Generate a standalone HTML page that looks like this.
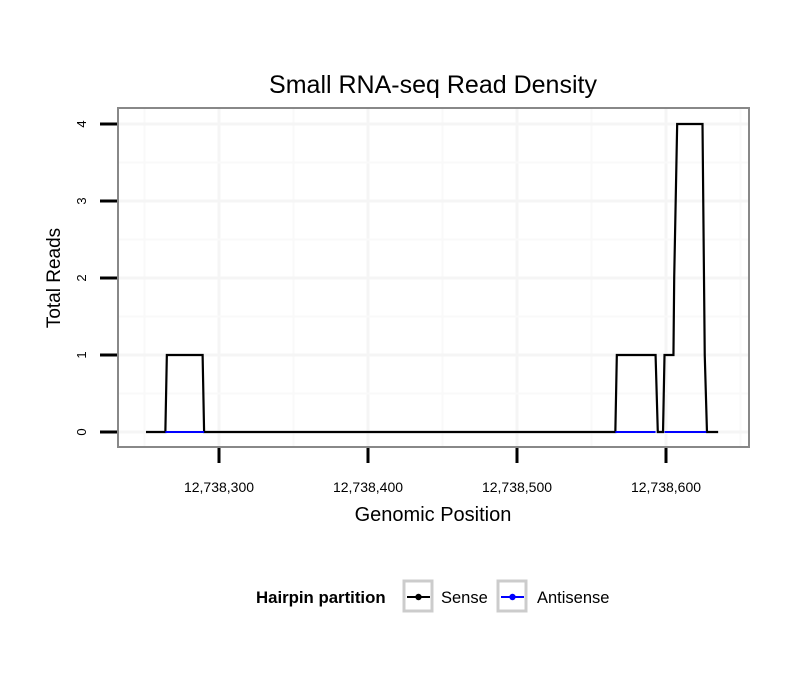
<!DOCTYPE html>
<html><head><meta charset="utf-8"><style>
body{margin:0;background:#fff;font-family:"Liberation Sans",sans-serif}
</style></head><body>
<svg id="chart" width="810" height="690" xmlns="http://www.w3.org/2000/svg">
<rect width="810" height="690" fill="#fff"/>
<text x="433" y="93" font-size="25" text-anchor="middle">Small RNA-seq Read Density</text>
<g id="grid"></g>
<g id="series"></g>
<rect x="118" y="108" width="631" height="339" fill="none" stroke="#888" stroke-width="2"/>
<g id="axes"></g>
<text x="433" y="521" font-size="20" text-anchor="middle">Genomic Position</text>
<text transform="translate(60,278) rotate(-90)" font-size="19" text-anchor="middle">Total Reads</text>
<g>
<text x="256" y="603" font-size="16.8" font-weight="bold">Hairpin partition</text>
<g>
<rect x="404" y="581" width="28" height="30" fill="#fff" stroke="#ccc" stroke-width="3"/>
<line x1="407" y1="597" x2="430" y2="597" stroke="#000" stroke-width="2"/><circle cx="418.5" cy="597" r="3.2" fill="#000"/>
<text x="441" y="603" font-size="16.5">Sense</text></g>
<g>
<rect x="498" y="581" width="28" height="30" fill="#fff" stroke="#ccc" stroke-width="3"/>
<line x1="501" y1="597" x2="524" y2="597" stroke="#00f" stroke-width="2"/><circle cx="512.5" cy="597" r="3.2" fill="#00f"/>
<text x="537" y="603" font-size="16.5">Antisense</text></g>
</g>
</svg>
<script>
const xTicks=[300,400,500,600];
const xTickLabels=["12,738,300","12,738,400","12,738,500","12,738,600"];
const yTicks=[0,1,2,3,4];
const sensePos=[251,264,265,289,290,566,567,593,594.5,598,599,605,605.5,607.5,624.5,626,627.5,635];
const senseReads=[0,0,1,1,0,0,1,1,0,0,1,1,2,4,4,1,0,0];
const antiPos=[264,290,null,566,593,null,599,627];
const antiReads=[0,0,null,0,0,null,0,0];
const xs=v=>219+(v-300)*1.49;
const ys=v=>432-v*77;
const NS="http://www.w3.org/2000/svg";
function mk(t,a,p){const e=document.createElementNS(NS,t);for(const k in a)e.setAttribute(k,a[k]);p.appendChild(e);return e;}
const grid=document.getElementById('grid'),axes=document.getElementById('axes'),ser=document.getElementById('series');
mk('rect',{x:118,y:108,width:631,height:339,fill:'#fff'},grid);
for(let i=0;i<=xTicks.length;i++){const v=xTicks[0]-50+i*100;const l=mk('line',{x1:xs(v),x2:xs(v),y1:108,y2:447,stroke:'#f9f9f9','stroke-width':2},grid);

}
xTicks.forEach((v,i)=>{const l=mk('line',{x1:xs(v),x2:xs(v),y1:108,y2:447,stroke:'#f5f5f5','stroke-width':3},grid);


const t=mk('line',{x1:xs(v),x2:xs(v),y1:448,y2:463,stroke:'#000','stroke-width':3},axes);


const tx=mk('text',{x:xs(v),y:492,'font-size':14,'text-anchor':'middle'},axes);tx.textContent=xTickLabels[i];

});
for(let v=0.5;v<4;v+=1){const l=mk('line',{x1:118,x2:749,y1:ys(v),y2:ys(v),stroke:'#f9f9f9','stroke-width':2},grid);

}
yTicks.forEach(v=>{const l=mk('line',{x1:118,x2:749,y1:ys(v),y2:ys(v),stroke:'#f5f5f5','stroke-width':3},grid);


const t=mk('line',{x1:100,x2:117,y1:ys(v),y2:ys(v),stroke:'#000','stroke-width':3},axes);


const tx=mk('text',{transform:`translate(86,${ys(v)}) rotate(-90)`,'font-size':13,'text-anchor':'middle'},axes);tx.textContent=v;

});
let d='';sensePos.forEach((p,i)=>{d+=(i?'L':'M')+xs(p)+','+ys(senseReads[i]);});
const sp=mk('path',{d:d,fill:'none',stroke:'#000','stroke-width':2.2},ser);


let d2='',st=true;antiPos.forEach((p,i)=>{if(p===null){st=true;return;}d2+=(st?'M':'L')+xs(p)+','+ys(antiReads[i]);st=false;});
const ap=mk('path',{d:d2,fill:'none',stroke:'#00f','stroke-width':2},ser);


</script>
</body></html>
